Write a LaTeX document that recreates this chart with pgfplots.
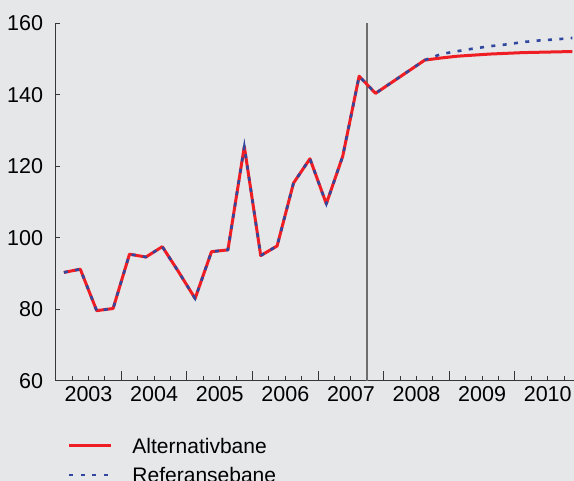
\documentclass[border=0pt]{standalone}
\usepackage{fontspec}
\setmainfont{Liberation Sans}
\usepackage{pgfplots}
\pgfplotsset{compat=1.18}
\definecolor{bg}{RGB}{230,231,233}
\definecolor{myred}{RGB}{238,30,36}
\definecolor{myblue}{RGB}{48,72,160}
\definecolor{axgray}{RGB}{55,55,55}
\definecolor{vgray}{RGB}{110,110,110}
\begin{document}
\begin{tikzpicture}
\fill[bg] (-55.7pt,-100.3pt) rectangle (518.3pt,380.7pt);
\begin{axis}[
  scale only axis, width=518.3pt, height=357.4pt,
  xmin=2003, xmax=2010.9, ymin=60, ymax=160,
  axis x line=bottom, axis y line=left,
  axis line style={-, draw=axgray, line width=1.1pt},
  tick align=inside,
  xtick={2003,2004,2005,2006,2007,2008,2009,2010},
  xticklabels={2003,2004,2005,2006,2007,2008,2009,2010},
  minor xtick={2003.25,2003.5,2003.75,2004.25,2004.5,2004.75,2005.25,2005.5,2005.75,2006.25,2006.5,2006.75,2007.25,2007.5,2007.75,2008.25,2008.5,2008.75,2009.25,2009.5,2009.75,2010.25,2010.5,2010.75},
  ytick={60,80,100,120,140,160},
  minor tick length=4.7pt,
  x tick style={/pgfplots/major tick length=9.7pt, draw=axgray, line width=1pt},
  y tick style={/pgfplots/major tick length=4.3pt, draw=axgray, line width=1pt},
  minor x tick style={draw=axgray, line width=1pt},
  tick label style={font=\fontsize{21.5}{25}\selectfont, inner sep=0pt, text=black},
  x tick label style={anchor=north, yshift=-6pt, xshift=32.8pt},
  y tick label style={anchor=east, xshift=-12.4pt},
  /pgf/number format/assume math mode=true,
  legend style={at={(axis description cs:0.0237,-0.1612)}, anchor=north west,
    draw=none, fill=none, inner sep=0pt, outer sep=0pt,
    font=\fontsize{21}{25}\selectfont, row sep=14pt, column sep=19.5pt,
    nodes={inner sep=0pt, text height=15pt, text depth=0pt}},
  legend cell align=left,
  legend image code/.code={\draw[#1] (0pt,0pt) -- (42pt,0pt);},
]
\addplot[forget plot, draw=vgray, line width=2pt] coordinates {(2007.75,60) (2007.75,160)};
\addplot[draw=myred, line width=3pt, line join=round] coordinates {
(2003.125,90.3) (2003.375,91.2) (2003.625,79.6) (2003.875,80.2)
(2004.125,95.4) (2004.375,94.6) (2004.625,97.5) (2004.875,90.4)
(2005.125,83.0) (2005.375,96.1) (2005.625,96.6) (2005.875,125.5)
(2006.125,95.0) (2006.375,97.7) (2006.625,115.3) (2006.875,122.1)
(2007.125,109.5) (2007.375,122.8) (2007.625,145.2) (2007.875,140.4)
(2008.125,143.5) (2008.375,146.6) (2008.625,149.7) (2008.875,150.3)
(2009.125,150.8) (2009.375,151.1) (2009.625,151.4) (2009.875,151.6)
(2010.125,151.8) (2010.375,151.9) (2010.625,152.0) (2010.875,152.1)
};
\addlegendentry{Alternativbane}
\addplot[draw=myblue, line width=2.6pt, dash pattern=on 4pt off 7.4pt] coordinates {
(2003.125,90.3) (2003.375,91.2) (2003.625,79.6) (2003.875,80.2)
(2004.125,95.4) (2004.375,94.6) (2004.625,97.5) (2004.875,90.4)
(2005.125,83.0) (2005.375,96.1) (2005.625,96.6) (2005.875,125.5)
(2006.125,95.0) (2006.375,97.7) (2006.625,115.3) (2006.875,122.1)
(2007.125,109.5) (2007.375,122.8) (2007.625,145.2) (2007.875,140.4)
(2008.125,143.5) (2008.375,146.6) (2008.625,149.7) (2008.875,151.4)
(2009.125,152.2) (2009.375,152.95) (2009.625,153.6) (2009.875,154.1)
(2010.125,154.75) (2010.375,155.2) (2010.625,155.5) (2010.875,155.9)
};
\addlegendentry{Referansebane}
\end{axis}
\pgfresetboundingbox
\path (-55.7pt,-100.3pt) rectangle (518.3pt,380.7pt);
\end{tikzpicture}
\end{document}
